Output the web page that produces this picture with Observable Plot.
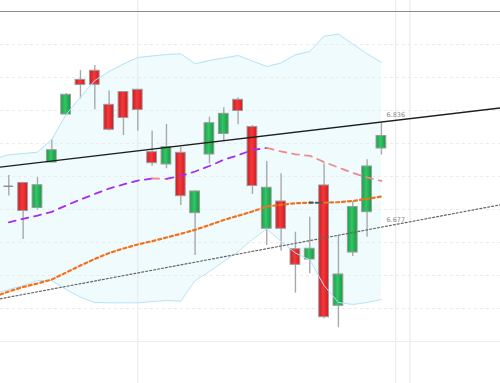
<!DOCTYPE html>
<html>
<head>
<meta charset="utf-8">
<script src="https://cdn.jsdelivr.net/npm/d3@7"></script>
<script src="https://cdn.jsdelivr.net/npm/@observablehq/plot@0.6"></script>
<style>
  html, body { margin: 0; padding: 0; background: #fff; }
  svg { display: block; }
</style>
</head>
<body>
<div id="chart"></div>
<script>
// ---- Data ----
// candle index (x position) 0..26
const candleIdx = d3.range(0, 27);
const opens  = [6.7353, 6.7402, 6.7023, 6.7712, 6.8439, 6.8965, 6.9102, 6.8586, 6.8780, 6.8814,
                6.7868, 6.7682, 6.7859, 6.6944, 6.7833, 6.8144, 6.8662, 6.8250, 6.6708, 6.7121,
                6.6398, 6.6242, 6.7364, 6.5541, 6.6348, 6.6959, 6.7924];
const highs  = [6.7515, 6.7405, 6.7485, 6.8056, 6.8758, 6.9106, 6.9182, 6.8795, 6.8788, 6.8818,
                6.8189, 6.8288, 6.7939, 6.7288, 6.8398, 6.8541, 6.8689, 6.8273, 6.7727, 6.7541,
                6.6656, 6.6883, 6.7692, 6.6606, 6.7121, 6.7753, 6.8311];
const lows   = [6.7205, 6.6545, 6.6992, 6.7705, 6.8432, 6.8677, 6.8511, 6.8189, 6.8121, 6.8186,
                6.7656, 6.7617, 6.7061, 6.6303, 6.7692, 6.8045, 6.8283, 6.7227, 6.6455, 6.6368,
                6.5732, 6.6026, 6.5344, 6.5208, 6.6288, 6.6580, 6.7826];
const closes = [6.7353, 6.6977, 6.7368, 6.7898, 6.8738, 6.8886, 6.8889, 6.8208, 6.8386, 6.8508,
                6.7702, 6.7944, 6.7202, 6.7273, 6.8308, 6.8450, 6.8492, 6.7356, 6.7329, 6.6708,
                6.6162, 6.6405, 6.5368, 6.6015, 6.7038, 6.7652, 6.8114];

// Bollinger band (index -1..26)
const bandIdx = d3.range(-1, 27);
const bandUpper = [6.7765, 6.7829, 6.7848, 6.7868, 6.8061, 6.8439, 6.8702, 6.8955, 6.9091, 6.9205,
                   6.9303, 6.9326, 6.9348, 6.9359, 6.9208, 6.9258, 6.9295, 6.9333, 6.9250, 6.9167,
                   6.9220, 6.9344, 6.9394, 6.9626, 6.9656, 6.9508, 6.9359, 6.9232];
const bandLower = [6.5720, 6.5788, 6.5848, 6.5924, 6.5924, 6.5788, 6.5671, 6.5591, 6.5586, 6.5586,
                   6.5586, 6.5606, 6.5621, 6.5611, 6.5924, 6.6061, 6.6212, 6.6364, 6.6545, 6.6708,
                   6.6515, 6.6341, 6.6235, 6.5848, 6.5591, 6.5561, 6.5591, 6.5636];

// Middle band / moving average (index 0..26)
const midIdx = d3.range(0, 27);
const midVals = [6.6806, 6.6859, 6.6909, 6.6965, 6.7061, 6.7152, 6.7235, 6.7318, 6.7379, 6.7439,
                 6.7470, 6.7465, 6.7508, 6.7576, 6.7659, 6.7753, 6.7823, 6.7902, 6.7932, 6.7879,
                 6.7836, 6.7814, 6.7720, 6.7636, 6.7556, 6.7485, 6.7432];

// Slower moving average (index -1..26)
const slowIdx = d3.range(-1, 27);
const slowVals = [6.5682, 6.5758, 6.5826, 6.5879, 6.5939, 6.6045, 6.6152, 6.6250, 6.6341, 6.6409,
                  6.6470, 6.6520, 6.6576, 6.6632, 6.6692, 6.6765, 6.6841, 6.6905, 6.6970, 6.7045,
                  6.7071, 6.7095, 6.7103, 6.7102, 6.7111, 6.7129, 6.7162, 6.7197];

// Trend lines (end points, index / price)
const resistIdx = [-0.6, 34.4];
const resistVals = [6.7641, 6.8541];
const supportIdx = [-0.6, 34.4];
const supportVals = [6.5647, 6.7075];

// Price labels on the trend lines
const labelIdx = [27, 27];
const labelVals = [6.836, 6.677];
const labelTexts = ["6.836", "6.677"];

// Grid
const gridPrices = [6.55, 6.60, 6.65, 6.70, 6.75, 6.80, 6.85, 6.90, 6.95];
const topPrice = [7.00];
const bottomPrice = [6.50];
const vGridIdx = [9, 27, 28];

// Visible ranges
const xView = [-0.58, 34.31];
const yView = [6.50, 7.00];

// ---- Build tables ----
const candles = candleIdx.map((i, k) => ({i, open: opens[k], high: highs[k], low: lows[k], close: closes[k]}));
const band = bandIdx.map((i, k) => ({i, upper: bandUpper[k], lower: bandLower[k]}));
const upperPts = band.map(d => ({i: d.i, v: d.upper}));
const lowerPts = band.map(d => ({i: d.i, v: d.lower}));
const resist = resistIdx.map((i, k) => ({i, v: resistVals[k]}));
const support = supportIdx.map((i, k) => ({i, v: supportVals[k]}));
const labels = labelIdx.map((i, k) => ({i, v: labelVals[k], t: labelTexts[k]}));

// split a series into runs of rising / falling segments
function runs(idx, vals) {
  const rows = [];
  let run = 0, prevUp = null;
  for (let k = 1; k < idx.length; k++) {
    const up = vals[k] >= vals[k - 1];
    if (up !== prevUp) {
      if (prevUp !== null) run++;
      rows.push({i: idx[k - 1], v: vals[k - 1], run, up});
      prevUp = up;
    }
    rows.push({i: idx[k], v: vals[k], run, up});
  }
  return rows;
}
const midRuns = runs(midIdx, midVals);
const slowRuns = runs(slowIdx, slowVals);

const bodies = candles.filter(d => d.open !== d.close);
const dojis = candles.filter(d => d.open === d.close);
const half = 0.34;

function defs() {
  const ns = "http://www.w3.org/2000/svg";
  const g = document.createElementNS(ns, "defs");
  const mk = (id, stops) => {
    const lg = document.createElementNS(ns, "linearGradient");
    lg.setAttribute("id", id);
    lg.setAttribute("x1", "0"); lg.setAttribute("x2", "1");
    lg.setAttribute("y1", "0"); lg.setAttribute("y2", "0");
    stops.forEach(([o, c]) => {
      const s = document.createElementNS(ns, "stop");
      s.setAttribute("offset", o); s.setAttribute("stop-color", c);
      lg.appendChild(s);
    });
    g.appendChild(lg);
  };
  mk("gRed", [["0%", "#cf1a20"], ["45%", "#f2393b"], ["100%", "#d41b22"]]);
  mk("gGreen", [["0%", "#17a146"], ["45%", "#35c467"], ["100%", "#139a3f"]]);
  return g;
}

const chart = Plot.plot({
  width: 500,
  height: 383,
  marginTop: 11,
  marginBottom: 42,
  marginLeft: 0,
  marginRight: 0,
  x: {type: "linear", domain: xView, axis: null},
  y: {domain: yView, axis: null},
  color: {type: "identity"},
  style: {background: "#ffffff", fontFamily: "DejaVu Sans, sans-serif"},
  marks: [
    defs,
    Plot.areaY(band, {x: "i", y1: "lower", y2: "upper", fill: "#effbfd", clip: true}),
    Plot.ruleY(gridPrices, {stroke: "#ebebeb", strokeDasharray: "3,3"}),
    Plot.ruleX(vGridIdx, {stroke: "#e6e6ee", insetTop: -11, insetBottom: -42}),
    Plot.ruleY(bottomPrice, {stroke: "#ededed"}),
    Plot.ruleY(topPrice, {stroke: "#8c8c8c"}),
    // candles
    Plot.ruleX(candles, {x: "i", y1: "low", y2: "high", stroke: "#a9a9a9", strokeWidth: 1.4}),
    Plot.rect(bodies, {
      x1: d => d.i - half, x2: d => d.i + half, y1: "open", y2: "close",
      fill: d => d.close > d.open ? "url(#gGreen)" : "url(#gRed)",
      stroke: "#9c9c9c", strokeWidth: 1
    }),
    Plot.ruleY(dojis, {y: "open", x1: d => d.i - half, x2: d => d.i + half, stroke: "#7a7a7a", strokeWidth: 1.2}),
    // bollinger lines
    Plot.line(upperPts, {x: "i", y: "v", stroke: "#b5e2f8", strokeWidth: 1, clip: true}),
    Plot.line(lowerPts, {x: "i", y: "v", stroke: "#b5e2f8", strokeWidth: 1, clip: true}),
    // moving averages
    Plot.line(slowRuns, {x: "i", y: "v", z: "run", stroke: d => d.up ? "#f4701c" : "#555555",
      strokeWidth: 2.2, strokeDasharray: "3,3", clip: true}),
    Plot.line(midRuns, {x: "i", y: "v", z: "run", stroke: d => d.up ? "#a52cf2" : "#f0898a",
      strokeWidth: 1.8, strokeDasharray: "7,6", clip: true}),
    // trend lines
    Plot.line(support, {x: "i", y: "v", stroke: "#666666", strokeWidth: 1.2, strokeDasharray: "2,2", clip: true}),
    Plot.line(resist, {x: "i", y: "v", stroke: "#1e1e1e", strokeWidth: 1.3, clip: true}),
    Plot.text(labels, {x: "i", y: "v", text: "t", dy: -5, fontSize: 6.5, fill: "#8a8a8a"})
  ]
});
document.getElementById("chart").appendChild(chart);
</script>
</body>
</html>
